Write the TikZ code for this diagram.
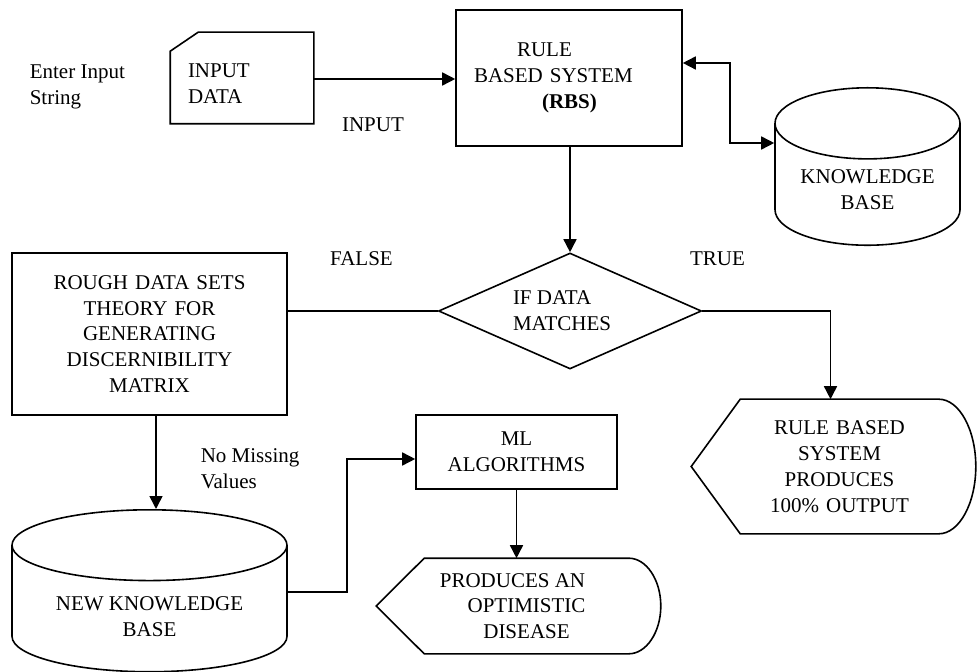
\documentclass[tikz,border=0pt]{standalone}
\usepackage{fontspec}
\setmainfont{Liberation Serif}
\usetikzlibrary{shapes.geometric,arrows.meta}
\tikzset{
  flow/.style={
    line width=0.8pt,
    line join=miter
  },
  flow-box/.style={
    flow,
    draw=black,
    rectangle,
    inner sep=0pt
  },
  flow-card/.style={
    rectangle,
    minimum width=71pt,
    minimum height=45pt,
    inner xsep=8.5pt,
    inner ysep=0pt,
    text width=54pt,
    align=left
  },
  flow-db/.style={
    flow,
    draw=black,
    cylinder,
    shape border rotate=90,
    inner sep=0pt,
    align=center,
    anchor=north
  },
  flow-decide/.style={
    flow,
    draw=black,
    diamond,
    aspect=2.27,
    minimum width=131.5pt,
    minimum height=58pt,
    inner sep=0pt,
    align=left
  },
  flow-show/.style={rectangle, inner sep=0pt, align=center},
  flow-label/.style={inner sep=0pt, align=left},
  flow-arrow/.style={flow, -{Triangle[length=6.5pt,width=6.5pt]}},
  flow-both/.style={flow, {Triangle[length=6.5pt,width=6.5pt]}-{Triangle[length=6.5pt,width=6.5pt]}}
}

\begin{document}
\begin{tikzpicture}[x=0.5pt, y=-0.5pt, flow, font=\fontsize{10.5}{12.9}\selectfont]
  \useasboundingbox (0,0) rectangle (977,672);
  % Input side
  \node[flow-label, anchor=west] (enter) at (29,87) {Enter Input\\String};
  \node[flow-card] (card) at (242,84) {INPUT\\DATA};
  \draw[flow] ([yshift=3pt]card.south west) -- ([yshift=-6.5pt]card.north west)
    -- ([xshift=14pt,yshift=3pt]card.north west) -- ([yshift=3pt]card.north east)
    -- ([yshift=3pt]card.south east) -- cycle;
  \node[flow-label] (inlab) at (373,125) {INPUT};
  % Rule based system and its base
  \node[flow-box, minimum width=113pt, minimum height=68pt, text width=95pt,
    inner xsep=9pt, align=left] (rbs) at (569,78)
    {\hspace*{21.5pt}RULE\\BASED SYSTEM\\\hspace*{34pt}\textbf{(RBS)}\par\vspace*{16pt}};
  \node[flow-db, aspect=0.53, minimum width=92.5pt, minimum height=78pt] (kb) at (867.5,87)
    {\rule{0pt}{12pt}KNOWLEDGE\\BASE};
  % Decision
  \node[flow-decide] (dec) at (570,311) {IF DATA\\MATCHES\hspace*{8pt}};
  \node[flow-label] (falselab) at (361.5,259) {FALSE};
  \node[flow-label] (truelab) at (717.5,259) {TRUE};
  \node[flow-box, minimum width=137.5pt, minimum height=81pt, text width=137.5pt, align=center]
    (rough) at (149.5,334)
    {ROUGH DATA SETS\\THEORY FOR\\GENERATING\\DISCERNIBILITY\\MATRIX\par\vspace*{6.5pt}};
  % True branch output
  \node[flow-show, minimum width=98.5pt, minimum height=66.5pt, text width=98.5pt] (out1) at (839.5,466.5)
    {RULE BASED\\SYSTEM\\PRODUCES\\100\% OUTPUT\par\vspace*{6pt}};
  \draw[flow] (out1.north west) -- (out1.north east)
    .. controls ([xshift=10.2pt]out1.north east) and ([xshift=18.5pt,yshift=18.4pt]out1.east) .. ([xshift=18.5pt]out1.east)
    .. controls ([xshift=18.5pt,yshift=-18.4pt]out1.east) and ([xshift=10.2pt]out1.south east) .. (out1.south east)
    -- (out1.south west) -- ([xshift=-24.5pt]out1.west) -- cycle;
  % False branch
  \node[flow-db, aspect=0.378, minimum width=137.5pt, minimum height=79.5pt] (nkb) at (149.5,509)
    {\rule{0pt}{14.5pt}NEW KNOWLEDGE\\BASE};
  \node[flow-label, anchor=west] (nomiss) at (200,469) {No Missing\\Values};
  \node[flow-box, minimum width=100.5pt, minimum height=37pt, align=center] (ml) at (516.5,452) {ML\\ALGORITHMS};
  \node[flow-show, minimum width=101.5pt, minimum height=47pt] (out2) at (526.5,606)
    {PRODUCES AN\hspace*{14pt}\\OPTIMISTIC\\DISEASE};
  \draw[flow] (out2.north west) -- (out2.north east)
    .. controls ([xshift=8.8pt]out2.north east) and ([xshift=16pt,yshift=13pt]out2.east) .. ([xshift=16pt]out2.east)
    .. controls ([xshift=16pt,yshift=-13pt]out2.east) and ([xshift=8.8pt]out2.south east) .. (out2.south east)
    -- (out2.south west) -- ([xshift=-24pt]out2.west) -- cycle;
  % Connectors
  \draw[flow-arrow] ([yshift=2.5pt]card.east) -- ([yshift=2.5pt]card.east -| rbs.west);
  \draw[flow-both] ([yshift=7.5pt]rbs.east) -- ++(47,0) |- ([yshift=-28pt]kb.north -| kb.west);
  \draw[flow-arrow] (rbs.south -| dec.north) -- (dec.north);
  \draw[flow] (dec.west) -- (dec.west -| rough.east);
  \draw[flow-arrow] (dec.east) -| ([xshift=-4.5pt]out1.north);
  \draw[flow-arrow] ([xshift=3.25pt]rough.south) -- ([xshift=3.25pt]rough.south |- nkb.north);
  \draw[flow-arrow] ([yshift=-41.5pt]nkb.north -| nkb.east) -- ++(59,0) |- ([yshift=-3.5pt]ml.west);
  \draw[flow-arrow] (ml.south) -- (ml.south |- out2.north);
\end{tikzpicture}
\end{document}
